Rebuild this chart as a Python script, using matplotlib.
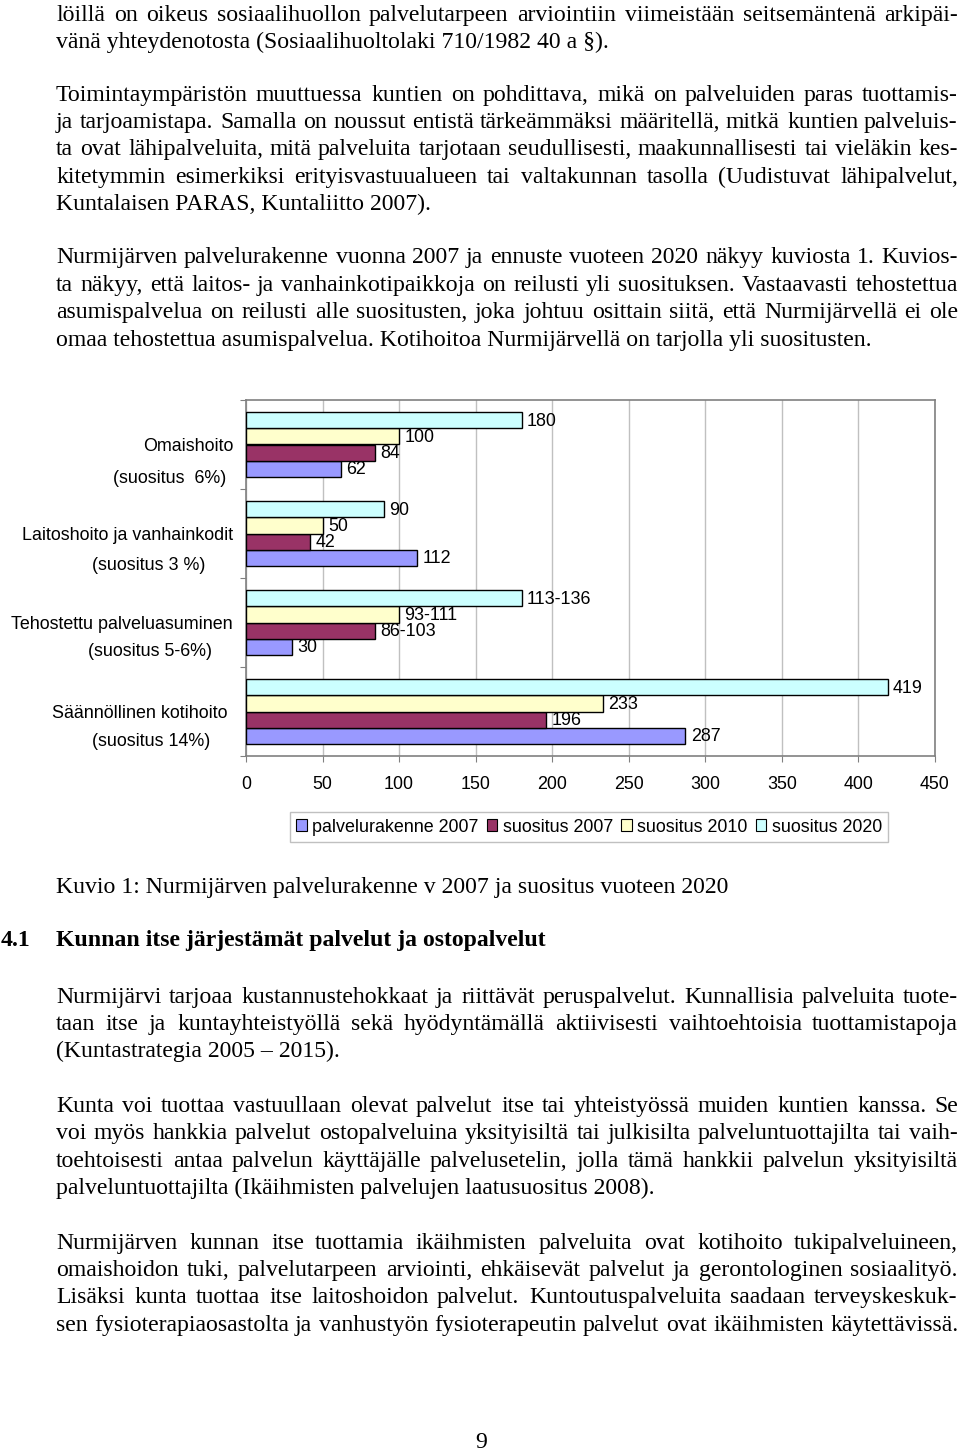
import matplotlib
matplotlib.use("Agg")
import matplotlib.pyplot as plt
from matplotlib.patches import Patch
import numpy as np

W, H = 960, 1451

# kaavion data
kategoriat = ["Omaishoito", "Laitoshoito ja vanhainkodit",
              "Tehostettu palveluasuminen", "Säännöllinen kotihoito"]
suositukset = ["(suositus  6%)", "(suositus 3 %)", "(suositus 5-6%)", "(suositus 14%)"]
sarjat = ["palvelurakenne 2007", "suositus 2007", "suositus 2010", "suositus 2020"]
palvelurakenne_2007 = [62, 112, 30, 287]
suositus_2007 = [84, 42, 84, 196]
suositus_2010 = [100, 50, 100, 233]
suositus_2020 = [180, 90, 180, 419]
arvot = [palvelurakenne_2007, suositus_2007, suositus_2010, suositus_2020]
nimilaput = [["62", "112", "30", "287"],
             ["84", "42", "86-103", "196"],
             ["100", "50", "93-111", "233"],
             ["180", "90", "113-136", "419"]]
varit = ["#9999FF", "#993366", "#FFFFCC", "#CCFFFF"]
x_tikit = list(range(0, 451, 50))

# sivun tekstirivit: (y, teksti, tasataanko)
rivit = [
    (14, "löillä on oikeus sosiaalihuollon palvelutarpeen arviointiin viimeistään seitsemäntenä arkipäi-", True),
    (41, "vänä yhteydenotosta (Sosiaalihuoltolaki 710/1982 40 a §).", False),
    (94, "Toimintaympäristön muuttuessa kuntien on pohdittava, mikä on palveluiden paras tuottamis-", True),
    (121, "ja tarjoamistapa. Samalla on noussut entistä tärkeämmäksi määritellä, mitkä kuntien palveluis-", True),
    (148, "ta ovat lähipalveluita, mitä palveluita tarjotaan seudullisesti, maakunnallisesti tai vieläkin kes-", True),
    (176, "kitetymmin esimerkiksi erityisvastuualueen tai valtakunnan tasolla (Uudistuvat lähipalvelut,", True),
    (203, "Kuntalaisen PARAS, Kuntaliitto 2007).", False),
    (256, "Nurmijärven palvelurakenne vuonna 2007 ja ennuste vuoteen 2020 näkyy kuviosta 1. Kuvios-", True),
    (284, "ta näkyy, että laitos- ja vanhainkotipaikkoja on reilusti yli suosituksen. Vastaavasti tehostettua", True),
    (311, "asumispalvelua on reilusti alle suositusten, joka johtuu osittain siitä, että Nurmijärvellä ei ole", True),
    (339, "omaa tehostettua asumispalvelua. Kotihoitoa Nurmijärvellä on tarjolla yli suositusten.", False),
    (886, "Kuvio 1: Nurmijärven palvelurakenne v 2007 ja suositus vuoteen 2020", False),
    (996, "Nurmijärvi tarjoaa kustannustehokkaat ja riittävät peruspalvelut. Kunnallisia palveluita tuote-", True),
    (1023, "taan itse ja kuntayhteistyöllä sekä hyödyntämällä aktiivisesti vaihtoehtoisia tuottamistapoja", True),
    (1050, "(Kuntastrategia 2005 – 2015).", False),
    (1105, "Kunta voi tuottaa vastuullaan olevat palvelut itse tai yhteistyössä muiden kuntien kanssa. Se", True),
    (1132, "voi myös hankkia palvelut ostopalveluina yksityisiltä tai julkisilta palveluntuottajilta tai vaih-", True),
    (1160, "toehtoisesti antaa palvelun käyttäjälle palvelusetelin, jolla tämä hankkii palvelun yksityisiltä", True),
    (1187, "palveluntuottajilta (Ikäihmisten palvelujen laatusuositus 2008).", False),
    (1242, "Nurmijärven kunnan itse tuottamia ikäihmisten palveluita ovat kotihoito tukipalveluineen,", True),
    (1269, "omaishoidon tuki, palvelutarpeen arviointi, ehkäisevät palvelut ja gerontologinen sosiaalityö.", True),
    (1296, "Lisäksi kunta tuottaa itse laitoshoidon palvelut. Kuntoutuspalveluita saadaan terveyskeskuk-", True),
    (1324, "sen fysioterapiaosastolta ja vanhustyön fysioterapeutin palvelut ovat ikäihmisten käytettävissä.", True),
]

SERIF = "Liberation Serif"
SANS = "Liberation Sans"
koko = 17.1
kkoko = 12.9

fig = plt.figure(figsize=(W / 100, H / 100), dpi=100)
renderer = fig.canvas.get_renderer()


def fx(x):
    return x / W


def fy(y):
    return 1 - y / H


def rivi(y, teksti, tasaa, x0=56, x1=958, **kw):
    yb = fy(y + 7)
    if not tasaa:
        fig.text(fx(x0), yb, teksti, family=SERIF, size=koko, va="baseline", **kw)
        return
    sanat = teksti.split(" ")
    tt = [fig.text(0, yb, s, family=SERIF, size=koko, va="baseline", **kw) for s in sanat]
    lev = [t.get_window_extent(renderer).width for t in tt]
    vali = (x1 - x0 - sum(lev)) / (len(sanat) - 1)
    x = x0
    for t, w in zip(tt, lev):
        t.set_x(fx(round(x)))
        x += w + vali


for y, t, j in rivit:
    rivi(y, t, j)

# otsikko
fig.text(fx(1), fy(946), "4.1", family=SERIF, size=koko, weight="bold", va="baseline")
fig.text(fx(56), fy(946), "Kunnan itse järjestämät palvelut ja ostopalvelut",
         family=SERIF, size=koko, weight="bold", va="baseline")
fig.text(fx(481), fy(1448), "9", family=SERIF, size=koko, ha="center", va="baseline")

# kaavio
ax = fig.add_axes([fx(246), fy(756), (935 - 246) / W, (756 - 400) / H])
n = len(kategoriat)
y = np.arange(n)
h = 0.183
for s in range(4):
    pos = y + (1.5 - s) * h
    ax.barh(pos, arvot[s], height=h, color=varit[s], edgecolor="black", linewidth=1.0, zorder=3)
    for p, v, lab in zip(pos, arvot[s], nimilaput[s]):
        ax.text(v + 3.5, p + 0.012, lab, family=SANS, size=kkoko, va="center", ha="left", zorder=4)

ax.set_xlim(0, 450)
ax.set_ylim(n - 0.5, -0.5)
ax.set_xticks(x_tikit)
ax.set_xticklabels([str(v) for v in x_tikit], family=SANS, size=kkoko)
ax.tick_params(axis="x", length=4.3, width=0.8, pad=10, color="#808080")
ax.set_yticks([])
ax.set_yticks(np.arange(n + 1) - 0.5, minor=True)
ax.tick_params(axis="y", which="minor", length=4.3, width=0.8, color="#808080", labelleft=False)
ax.grid(axis="x", color="#c0c0c0", linewidth=1.0, zorder=0)
for sp in ax.spines.values():
    sp.set_color("#808080")
    sp.set_linewidth(1.2)

# kategoriat akselin vasemmalle puolelle
rivi1_oik = [233, 233, 233, 228]
rivi2_oik = [226, 205, 212, 210]
rivi2_y = [479, 565, 651, 741]
for i in range(n):
    yc = 400 + (i + 0.5) * 89 + 2
    fig.text(fx(rivi1_oik[i]), fy(yc), kategoriat[i], family=SANS, size=kkoko, ha="right", va="center")
    fig.text(fx(rivi2_oik[i]), fy(rivi2_y[i]), suositukset[i], family=SANS, size=kkoko, ha="right", va="center")

kahvat = [Patch(facecolor=c, edgecolor="black", linewidth=0.8) for c in varit]
leg = fig.legend(kahvat, sarjat, loc="center", bbox_to_anchor=(fx(589), fy(827)), ncol=4,
                 prop={"family": SANS, "size": kkoko}, handlelength=0.6, handleheight=0.6,
                 handletextpad=0.3, columnspacing=0.45, borderpad=0.35, fancybox=False,
                 edgecolor="#c0c0c0", framealpha=1)
leg.get_frame().set_linewidth(1.0)

fig.savefig("out.png", dpi=100)
